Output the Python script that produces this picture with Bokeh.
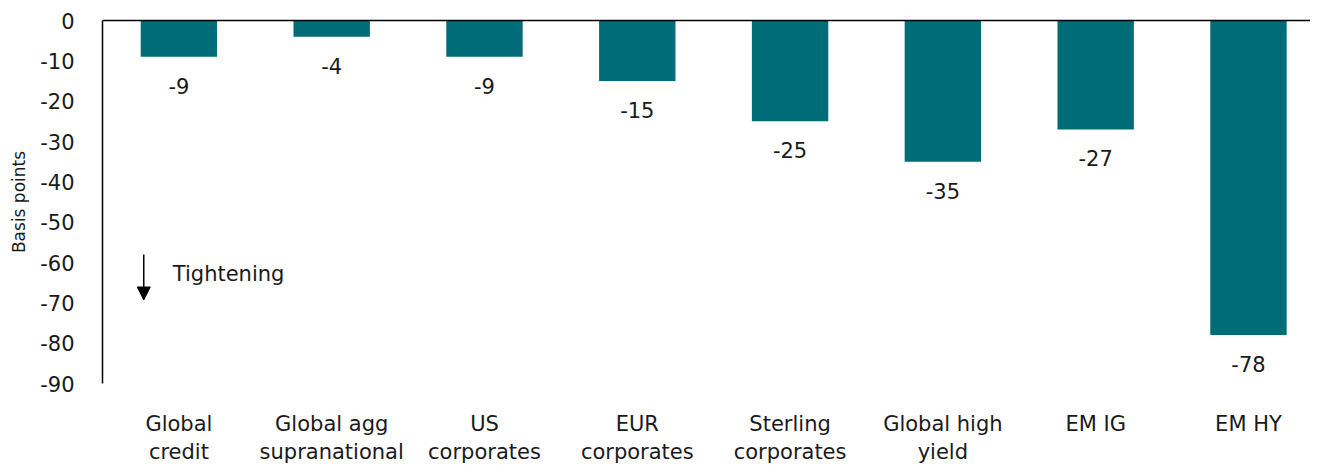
from bokeh.plotting import figure
from bokeh.models import (Range1d, FixedTicker, LinearAxis,
                          ColumnDataSource, Arrow, NormalHead, Label)
from bokeh.core.properties import value
from bokeh.embed import file_html
from bokeh.resources import INLINE

categories = ["Global\ncredit", "Global agg\nsupranational", "US\ncorporates",
              "EUR\ncorporates", "Sterling\ncorporates", "Global high\nyield",
              "EM IG", "EM HY"]
changes = [-9, -4, -9, -15, -25, -35, -27, -78]
y_ticks = list(range(-90, 1, 10))

FONT = "DejaVu Sans"
BAR = "#006C77"
TXT = "#1a1a1a"
FS = "21px"

xs = [i + 0.5 for i in range(len(categories))]
src = ColumnDataSource(dict(x=xs, top=[0] * len(changes), bottom=changes,
                            lab=[str(v) for v in changes]))

p = figure(width=1310, height=457, output_backend="svg", toolbar_location=None,
           x_range=Range1d(0, 7.906), y_range=Range1d(-90, 0),
           frame_width=1208, frame_height=363,
           min_border_left=102, min_border_right=0, min_border_top=20,
           min_border_bottom=74)
p.outline_line_color = None
p.grid.visible = False
p.background_fill_color = "white"

p.vbar(x="x", top="top", bottom="bottom", width=0.5, source=src,
       fill_color=BAR, line_color=None)
p.text(x="x", y="bottom", text="lab", source=src, y_offset=29,
       text_align="center", text_baseline="middle", text_font=value(FONT),
       text_font_size=FS, text_color=TXT)

# y axis
ya = p.yaxis[0]
ya.ticker = FixedTicker(ticks=y_ticks)
ya.major_label_overrides = {t: str(t) for t in y_ticks}
ya.axis_line_color = "black"
ya.axis_line_width = 1.5
ya.major_tick_line_color = None
ya.minor_tick_line_color = None
ya.major_label_standoff = 22
ya.major_label_text_font = FONT
ya.major_label_text_font_size = FS
ya.major_label_text_color = TXT
ya.axis_label = "Basis points"
ya.axis_label_text_font = FONT
ya.axis_label_text_font_size = "17px"
ya.axis_label_text_font_style = "normal"
ya.axis_label_text_color = TXT
ya.axis_label_standoff = 8

# x axis (labels only)
xa = p.xaxis[0]
xa.ticker = FixedTicker(ticks=xs)
xa.major_label_overrides = {x: c for x, c in zip(xs, categories)}
xa.axis_line_color = None
xa.major_tick_line_color = None
xa.minor_tick_line_color = None
xa.major_label_standoff = 22
xa.major_label_text_font = FONT
xa.major_label_text_font_size = FS
xa.major_label_text_color = TXT
xa.major_label_text_line_height = 1.2

# zero line on top
top_axis = LinearAxis(ticker=FixedTicker(ticks=[]), axis_line_color="black",
                      axis_line_width=1.5, major_tick_line_color=None,
                      minor_tick_line_color=None, major_label_text_font_size="0px")
p.add_layout(top_axis, "above")

# Tightening annotation
p.add_layout(Arrow(end=NormalHead(size=13, fill_color="black", line_color="black"),
                   x_start=0.27, y_start=-58, x_end=0.27, y_end=-69.3,
                   line_color="black", line_width=1.5))
p.add_layout(Label(x=0.46, y=-62.8, text="Tightening", text_font=FONT,
                   text_font_size=FS, text_baseline="middle",
                   text_color=TXT))

open("out.html", "w").write(file_html(p, INLINE))
